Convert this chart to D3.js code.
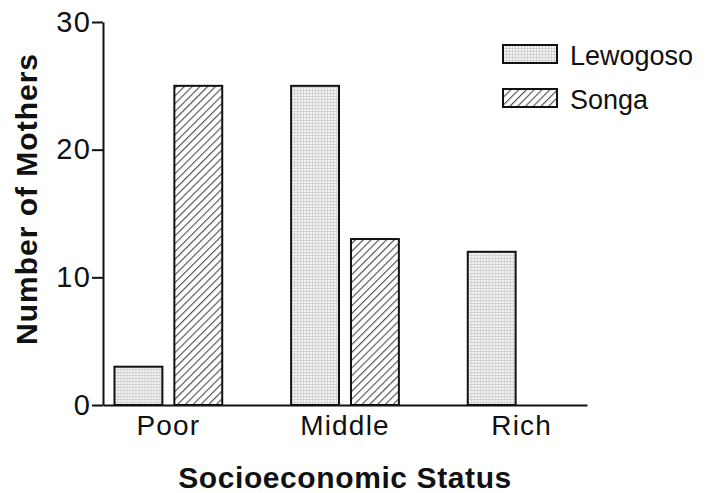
<!DOCTYPE html>
<html>
<head>
<meta charset="utf-8">
<script src="https://cdn.jsdelivr.net/npm/d3@7"></script>
<style>
  html, body { margin: 0; padding: 0; background: #fff; }
  svg { display: block; }
  text { font-family: "Liberation Sans", Arial, Helvetica, sans-serif; fill: #111; }
</style>
</head>
<body>
<svg id="chart" width="709" height="493"></svg>
<script>
// Mothers by socioeconomic status in two communities
const categories = ["Poor", "Middle", "Rich"];
const seriesNames = ["Lewogoso", "Songa"];
const lewogosoValues = [3, 25, 12];
const songaValues = [25, 13, 0];
const yTickValues = [0, 10, 20, 30];

const svg = d3.select("#chart");
const defs = svg.append("defs");

// fine stipple grid for Lewogoso
const stipple = defs.append("pattern")
  .attr("id", "stipple").attr("patternUnits", "userSpaceOnUse")
  .attr("width", 3).attr("height", 3);
stipple.append("rect").attr("width", 3).attr("height", 3).attr("fill", "#f5f5f5");
stipple.append("path").attr("d", "M0,0.5H3M0.5,0V3")
  .attr("stroke", "#d2d2d2").attr("stroke-width", 1);

// diagonal hatching for Songa
const hatch = defs.append("pattern")
  .attr("id", "hatch").attr("patternUnits", "userSpaceOnUse")
  .attr("width", 5.5).attr("height", 10)
  .attr("patternTransform", "rotate(45)");
hatch.append("rect").attr("width", 5.5).attr("height", 10).attr("fill", "#fff");
hatch.append("line").attr("x1", 0.6).attr("y1", 0).attr("x2", 0.6).attr("y2", 10)
  .attr("stroke", "#3a3a3a").attr("stroke-width", 1);

const fills = { Lewogoso: "url(#stipple)", Songa: "url(#hatch)" };

const x = d3.scaleBand().domain(categories).range([103, 587])
  .paddingInner(0.39).paddingOuter(0.065);
const xSub = d3.scaleBand().domain(seriesNames).range([0, x.bandwidth()])
  .paddingInner(0.2);
const y = d3.scaleLinear().domain([0, 30]).range([405, 22]);

const rows = categories.map((c, i) => ({
  category: c,
  values: [
    { name: "Lewogoso", value: lewogosoValues[i] },
    { name: "Songa", value: songaValues[i] }
  ]
}));

// bars
const groups = svg.append("g").selectAll("g").data(rows).join("g")
  .attr("transform", d => `translate(${x(d.category)},0)`);
groups.selectAll("rect").data(d => d.values.filter(v => v.value > 0)).join("rect")
  .attr("x", d => xSub(d.name))
  .attr("width", xSub.bandwidth())
  .attr("y", d => y(d.value))
  .attr("height", d => y(0) - y(d.value))
  .attr("fill", d => fills[d.name])
  .attr("stroke", "#111").attr("stroke-width", 2);

// y axis
const yAxis = svg.append("g").attr("transform", "translate(103,0)")
  .call(d3.axisLeft(y).tickValues(yTickValues).tickSize(11).tickSizeOuter(0).tickPadding(1));
yAxis.selectAll("path, line").attr("stroke", "#111").attr("stroke-width", 2);
yAxis.selectAll("text").attr("font-size", 29).attr("letter-spacing", 1.2)
  .style("font-family", "'Liberation Sans', Arial, sans-serif").attr("fill", "#111");

// x axis
const xAxis = svg.append("g").attr("transform", "translate(0,405)")
  .call(d3.axisBottom(x).tickSize(0).tickSizeOuter(0).tickPadding(10));
xAxis.select(".domain").attr("stroke", "#111").attr("stroke-width", 2);
xAxis.selectAll("text").attr("font-size", 28).attr("letter-spacing", 1.2)
  .style("font-family", "'Liberation Sans', Arial, sans-serif").attr("fill", "#111");

// axis titles
svg.append("text")
  .attr("x", 345).attr("y", 488)
  .attr("text-anchor", "middle")
  .attr("font-size", 30).attr("font-weight", "bold").attr("letter-spacing", 0.6)
  .text("Socioeconomic Status");

svg.append("text")
  .attr("transform", "translate(37,199) rotate(-90)")
  .attr("text-anchor", "middle")
  .attr("font-size", 30).attr("font-weight", "bold").attr("letter-spacing", 1)
  .text("Number of Mothers");

// legend
const legend = svg.append("g").selectAll("g").data(seriesNames).join("g")
  .attr("transform", (d, i) => `translate(503,${45 + i * 44})`);
legend.append("rect")
  .attr("width", 54).attr("height", 18)
  .attr("fill", d => fills[d])
  .attr("stroke", "#111").attr("stroke-width", 2);
legend.append("text")
  .attr("x", 67).attr("y", 20)
  .attr("font-size", 27)
  .text(d => d);
</script>
</body>
</html>
